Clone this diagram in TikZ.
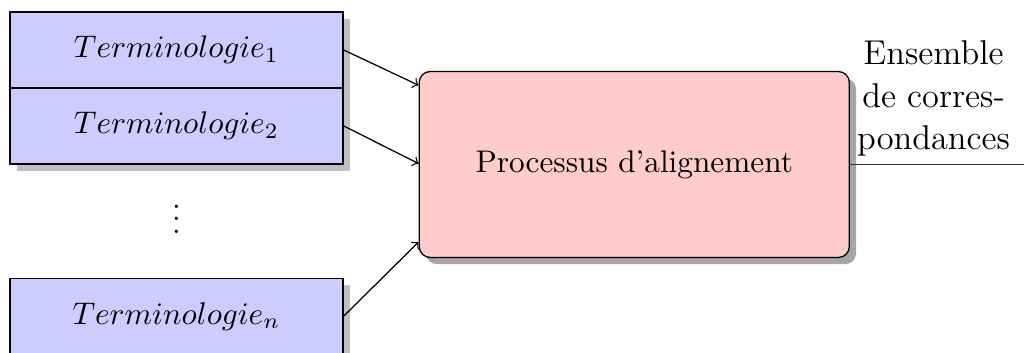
\documentclass[tikz,border=0pt]{standalone}
\usepackage{amsmath,amssymb}
\usepackage{tikz}
\usetikzlibrary{positioning,calc,shadows}
\definecolor{ALblue}{RGB}{204,204,255}
\definecolor{ALrose}{RGB}{255,204,204}
\tikzset{
  term/.style={draw,fill=ALblue,drop shadow,minimum width=3.74cm,
               minimum height=0.853cm,inner sep=0pt},
  proc/.style={draw,rounded corners=3.5pt,fill=ALrose,drop shadow={opacity=0.7},
               minimum width=4.83cm,minimum height=2.088cm},
  fl/.style={->},
  outl/.style={draw=black!80},
  lbl/.style={font=\fontsize{11pt}{13.6pt}\selectfont,align=center,text=black}
}
\begin{document}
\begin{tikzpicture}[node distance=1.27cm and 0.842cm]
  \useasboundingbox (0,0) rectangle (11.5,3.96);
  \node[term] (t1) at (1.982,3.399) {$Terminologie_1$};
  \node[term,below=-0.4pt of t1] (t2) {$Terminologie_2$};
  \node[term,below=of t2] (tn) {$Terminologie_n$};
  \node[yshift=0.13cm] (dots) at ($(t2.south)!0.5!(tn.north)$) {$\vdots$};
  \node[proc,right=of t2.south east] (align) {Processus d'alignement};
  \coordinate[right=1.977cm of align.east] (out);
  \draw[fl] (t1.east) -- ([yshift=0.89cm]align.west);
  \draw[fl] (t2.east) -- ([yshift=0.01cm]align.west);
  \draw[fl] (tn.east) -- ([yshift=-0.87cm]align.west);
  \draw[outl] (align.east) -- node[above,lbl,xshift=-0.05cm,yshift=-1pt]
    {Ensemble\\de corres-\\pondances} (out);
\end{tikzpicture}
\end{document}
